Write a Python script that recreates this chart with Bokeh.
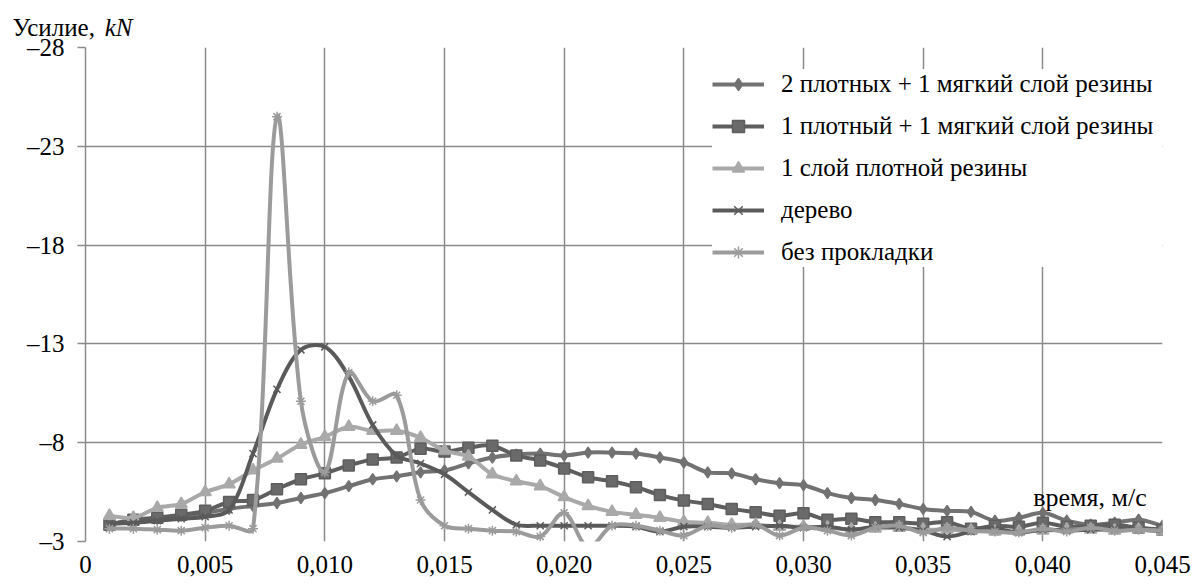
import math
from bokeh.plotting import figure
from bokeh.models import (Range1d, FixedTicker, Legend, LegendItem, Label, ColumnDataSource)
from bokeh.embed import file_html
from bokeh.resources import INLINE

# ---- data ----
time_s = [0.001, 0.002, 0.003, 0.004, 0.005, 0.006, 0.007, 0.008, 0.009, 0.010,
          0.011, 0.012, 0.013, 0.014, 0.015, 0.016, 0.017, 0.018, 0.019, 0.020,
          0.021, 0.022, 0.023, 0.024, 0.025, 0.026, 0.027, 0.028, 0.029, 0.030,
          0.031, 0.032, 0.033, 0.034, 0.035, 0.036, 0.037, 0.038, 0.039, 0.040,
          0.041, 0.042, 0.043, 0.044, 0.045]

two_dense_one_soft = [-3.9, -4.05, -4.15, -4.3, -4.45, -4.65, -4.8, -4.95, -5.2, -5.45,
                      -5.8, -6.15, -6.3, -6.5, -6.6, -6.95, -7.25, -7.4, -7.45, -7.35,
                      -7.5, -7.5, -7.45, -7.25, -7.0, -6.5, -6.45, -6.15, -5.95, -5.85,
                      -5.45, -5.2, -5.1, -4.9, -4.65, -4.55, -4.5, -4.05, -4.2, -4.45,
                      -4.05, -3.85, -3.95, -4.1, -3.8]
one_dense_one_soft = [-3.85, -4.1, -4.2, -4.35, -4.55, -5.0, -5.1, -5.65, -6.15, -6.45,
                      -6.85, -7.15, -7.25, -7.7, -7.55, -7.75, -7.85, -7.35, -7.1, -6.7,
                      -6.25, -6.05, -5.75, -5.35, -5.07, -4.9, -4.65, -4.48, -4.3, -4.43,
                      -4.1, -4.15, -3.98, -3.98, -3.9, -3.98, -3.65, -3.8, -3.75, -3.95,
                      -3.75, -3.8, -3.85, -3.7, -3.6]
one_dense = [-4.3, -4.2, -4.7, -4.9, -5.5, -5.9, -6.6, -7.2, -7.9, -8.3,
             -8.8, -8.6, -8.6, -8.25, -7.6, -7.3, -6.4, -6.05, -5.8, -5.25,
             -4.8, -4.5, -4.35, -4.2, -4.0, -3.95, -3.85, -3.85, -3.75, -3.75,
             -3.7, -3.6, -3.65, -3.7, -3.6, -3.6, -3.55, -3.5, -3.5, -3.55,
             -3.6, -3.6, -3.55, -3.6, -3.5]
wood = [-3.9, -3.95, -4.05, -4.15, -4.25, -4.6, -7.45, -10.7, -12.7, -12.85,
        -11.35, -8.9, -7.35, -6.95, -6.4, -5.5, -4.6, -3.85, -3.8, -3.8,
        -3.8, -3.8, -3.75, -3.5, -3.75, -3.75, -3.7, -3.75, -3.8, -3.7,
        -3.75, -3.6, -3.75, -3.7, -3.55, -3.25, -3.5, -3.65, -3.45, -3.6,
        -3.55, -3.6, -3.65, -3.6, -3.55]
no_pad = [-3.65, -3.65, -3.6, -3.55, -3.7, -3.8, -3.65, -24.5, -10.1, -6.5,
          -11.55, -10.1, -10.4, -5.1, -3.8, -3.65, -3.55, -3.5, -3.25, -4.45,
          -2.7, -3.8, -3.8, -3.55, -3.3, -3.8, -3.7, -3.85, -3.3, -3.7,
          -3.55, -3.3, -3.7, -3.8, -3.45, -3.7, -3.55, -3.5, -3.45, -3.65,
          -3.5, -3.7, -3.55, -3.6, -3.55]

series_names = ["2 плотных + 1 мягкий слой резины",
                "1 плотный + 1 мягкий слой резины",
                "1 слой плотной резины",
                "дерево",
                "без прокладки"]

y_ticks = [-28, -23, -18, -13, -8, -3]
y_tick_labels = ["–28", "–23", "–18", "–13", "–8", "–3"]
x_ticks = [0, 0.005, 0.010, 0.015, 0.020, 0.025, 0.030, 0.035, 0.040, 0.045]
x_tick_labels = ["0", "0,005", "0,010", "0,015", "0,020", "0,025", "0,030",
                 "0,035", "0,040", "0,045"]

y_title = "Усилие,"
y_title_unit = "kN"
x_title = "время, м/с"

# ---- style / layout ----
FONT = "Liberation Serif, Times New Roman, DejaVu Serif, serif"
W, H = 1192, 584
LEFT, TOP, RIGHT_EDGE, BOTTOM_EDGE = 85, 47, 1162, 541
styles = [
    dict(color="#727272", marker="diamond", size=11, fill="#727272"),
    dict(color="#5e5e5e", marker="square", size=11, fill="#6a6a6a"),
    dict(color="#a9a9a9", marker="triangle", size=12, fill="#a9a9a9"),
    dict(color="#5a5a5a", marker="x", size=10, fill="#5a5a5a"),
    dict(color="#9b9b9b", marker="asterisk", size=10, fill="#9b9b9b"),
]

x_range = Range1d(0, 0.045)
y_range = Range1d(-3, -28)
p = figure(width=W, height=H, output_backend="svg", toolbar_location=None,
           x_range=x_range, y_range=y_range,
           min_border_left=LEFT, min_border_right=W - RIGHT_EDGE,
           min_border_top=TOP, min_border_bottom=H - BOTTOM_EDGE)
p.outline_line_color = None
p.background_fill_color = "white"

# axes
p.yaxis.ticker = FixedTicker(ticks=y_ticks)
p.yaxis.major_label_overrides = dict(zip(y_ticks, y_tick_labels))
p.xaxis.ticker = FixedTicker(ticks=x_ticks)
p.xaxis.major_label_overrides = dict(zip(x_ticks, x_tick_labels))
for ax in (p.xaxis[0], p.yaxis[0]):
    ax.major_label_text_font = FONT
    ax.major_label_text_font_size = "25px"
    ax.major_label_text_color = "black"
    ax.minor_tick_line_color = None
p.yaxis.axis_line_color = "#8a8a8a"
p.yaxis.axis_line_width = 1.5
p.yaxis.major_tick_line_color = "#8a8a8a"
p.yaxis.major_tick_line_width = 1.5
p.yaxis.major_tick_out = 8
p.yaxis.major_tick_in = 0
p.yaxis.major_label_standoff = 13
p.xaxis.axis_line_color = None
p.xaxis.major_tick_line_color = None
p.xaxis.major_tick_out = 0
p.xaxis.major_tick_in = 0
p.xaxis.major_label_standoff = 14

p.xgrid.ticker = FixedTicker(ticks=x_ticks)
p.ygrid.ticker = FixedTicker(ticks=y_ticks)
for g in (p.xgrid[0], p.ygrid[0]):
    g.grid_line_color = "#8a8a8a"
    g.grid_line_width = 1.5

# pixel scale of the frame, used only to shape the smoothing handles
SX = (RIGHT_EDGE - LEFT) / (x_range.end - x_range.start)
SY = (BOTTOM_EDGE - TOP) / abs(y_range.end - y_range.start)


def smooth_segments(xs, ys, tension=1.0 / 3.0):
    """Cubic Bezier segments of a smoothed line through the data points
    (handles weighted by neighbouring segment lengths on screen)."""
    n = len(xs)
    out_h, in_h = [], []
    for i in range(n):
        ip = max(i - 1, 0)
        inx = min(i + 1, n - 1)
        tx = xs[inx] - xs[ip]
        ty = ys[inx] - ys[ip]
        dp = math.hypot((xs[i] - xs[ip]) * SX, (ys[i] - ys[ip]) * SY)
        dn = math.hypot((xs[inx] - xs[i]) * SX, (ys[inx] - ys[i]) * SY)
        tot = dp + dn if dp + dn > 0 else 1.0
        if i == 0 or i == n - 1:
            fo = fi = tension
        else:
            fo = tension * dn / tot
            fi = tension * dp / tot
        out_h.append((xs[i] + tx * fo, ys[i] + ty * fo))
        in_h.append((xs[i] - tx * fi, ys[i] - ty * fi))
    seg = dict(x0=[], y0=[], x1=[], y1=[], cx0=[], cy0=[], cx1=[], cy1=[])
    for i in range(n - 1):
        seg["x0"].append(xs[i]); seg["y0"].append(ys[i])
        seg["x1"].append(xs[i + 1]); seg["y1"].append(ys[i + 1])
        seg["cx0"].append(out_h[i][0]); seg["cy0"].append(out_h[i][1])
        seg["cx1"].append(in_h[i + 1][0]); seg["cy1"].append(in_h[i + 1][1])
    return seg


all_series = [two_dense_one_soft, one_dense_one_soft, one_dense, wood, no_pad]
items = []
for name, vals, st in zip(series_names, all_series, styles):
    src = ColumnDataSource(smooth_segments(time_s, vals))
    p.bezier(x0="x0", y0="y0", x1="x1", y1="y1", cx0="cx0", cy0="cy0",
             cx1="cx1", cy1="cy1", source=src, line_color=st["color"], line_width=4)
    sc = p.scatter(time_s, vals, marker=st["marker"], size=st["size"],
                   fill_color=st["fill"], line_color=st["color"], line_width=1.5)
    leg_line = p.line(x=[float("nan")], y=[float("nan")], line_color=st["color"],
                      line_width=4)
    items.append(LegendItem(label=name, renderers=[leg_line, sc]))

legend = Legend(items=items, location=(627, 274), padding=12, spacing=12,
                glyph_width=52, glyph_height=30, label_height=30, label_width=385,
                label_standoff=17, margin=0,
                label_text_font=FONT, label_text_font_size="25px",
                label_text_color="black",
                background_fill_color="white", background_fill_alpha=1.0,
                border_line_color=None)
p.add_layout(legend)

# axis titles (placed in side panels so they are not clipped to the frame)
p.add_layout(Label(x=-0.00305, y=-29.0, text=y_title, text_font=FONT,
                   text_font_size="25px", text_color="black",
                   text_baseline="alphabetic"), "above")
p.add_layout(Label(x=0.0008, y=-29.0, text=y_title_unit, text_font=FONT,
                   text_font_style="italic", text_font_size="25px",
                   text_color="black", text_baseline="alphabetic"), "right")
p.add_layout(Label(x=0.0396, y=-5.22, text=x_title, text_font=FONT,
                   text_font_size="26px", text_color="black",
                   text_baseline="alphabetic"))

open("out.html", "w").write(file_html(p, INLINE))
